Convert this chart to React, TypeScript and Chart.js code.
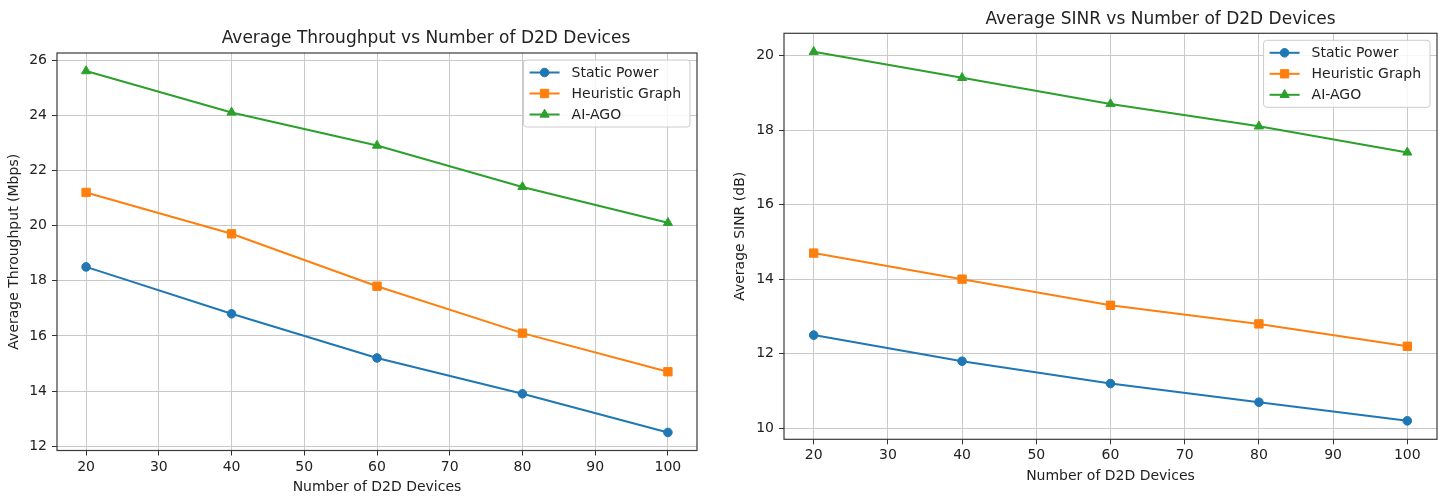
import React, { useEffect, useRef } from 'react';
import { Chart, registerables } from 'chart.js';

Chart.register(...registerables);

// ---------------- data ----------------
const deviceCounts = [20, 40, 60, 80, 100];
const seriesNames = ['Static Power', 'Heuristic Graph', 'AI-AGO'];

const throughputStatic = [18.5, 16.8, 15.2, 13.9, 12.5];
const throughputHeuristic = [21.2, 19.7, 17.8, 16.1, 14.7];
const throughputAIAGO = [25.6, 24.1, 22.9, 21.4, 20.1];

const sinrStatic = [12.5, 11.8, 11.2, 10.7, 10.2];
const sinrHeuristic = [14.7, 14.0, 13.3, 12.8, 12.2];
const sinrAIAGO = [20.1, 19.4, 18.7, 18.1, 17.4];

const xTicks = [20, 30, 40, 50, 60, 70, 80, 90, 100];
const throughputTicks = [12, 14, 16, 18, 20, 22, 24, 26];
const sinrTicks = [10, 12, 14, 16, 18, 20];

const xRange = [16, 104];
const throughputRange = [11.845, 26.255];
const sinrRange = [9.705, 20.595];

// ---------------- styles ----------------
const FONT = '"DejaVu Sans", sans-serif';
const TEXT = '#222222';
const colors = ['#1f77b4', '#ff7f0e', '#2ca02c'];
const pointStyles = ['circle', 'rect', 'triangle'];
const pointRadii = [4.3, 5.9, 5.3];
const W = 1445;
const H = 497;

function drawMarker(ctx: CanvasRenderingContext2D, style: string, x: number, y: number, r: number) {
  ctx.beginPath();
  if (style === 'circle') {
    ctx.arc(x, y, r, 0, Math.PI * 2);
  } else if (style === 'rect') {
    const s = Math.SQRT1_2 * r;
    ctx.rect(x - s, y - s, 2 * s, 2 * s);
  } else {
    let rad = 0;
    ctx.moveTo(x + Math.sin(rad) * r, y - Math.cos(rad) * r);
    rad += (2 * Math.PI) / 3;
    ctx.lineTo(x + Math.sin(rad) * r, y - Math.cos(rad) * r);
    rad += (2 * Math.PI) / 3;
    ctx.lineTo(x + Math.sin(rad) * r, y - Math.cos(rad) * r);
    ctx.closePath();
  }
  ctx.fill();
  ctx.stroke();
}

const mplPlugin = {
  id: 'mpl',
  afterDatasetsDraw(chart: any) {
    const { ctx, chartArea: a } = chart;
    ctx.save();
    ctx.strokeStyle = '#3a3a3a';
    ctx.lineWidth = 1.2;
    ctx.strokeRect(a.left, a.top, a.right - a.left, a.bottom - a.top);
    ctx.restore();
  },
  afterDraw(chart: any, _args: any, opts: any) {
    const { ctx, chartArea: a } = chart;
    ctx.save();
    // title
    ctx.font = `17px ${FONT}`;
    ctx.fillStyle = TEXT;
    ctx.textAlign = 'center';
    ctx.textBaseline = 'middle';
    ctx.fillText(opts.title, (a.left + a.right) / 2 + opts.titleShift, a.top - 14);

    // legend
    ctx.font = `14px ${FONT}`;
    const maxW = Math.max(...seriesNames.map((n) => ctx.measureText(n).width));
    const rowH = 21;
    const bw = 48 + maxW + 9;
    const bh = 12.5 * 2 + rowH * 2;
    const right = a.right - 7;
    const top = a.top + 7;
    const left = right - bw;
    ctx.beginPath();
    const rr = 3;
    ctx.moveTo(left + rr, top);
    ctx.lineTo(right - rr, top);
    ctx.arcTo(right, top, right, top + rr, rr);
    ctx.lineTo(right, top + bh - rr);
    ctx.arcTo(right, top + bh, right - rr, top + bh, rr);
    ctx.lineTo(left + rr, top + bh);
    ctx.arcTo(left, top + bh, left, top + bh - rr, rr);
    ctx.lineTo(left, top + rr);
    ctx.arcTo(left, top, left + rr, top, rr);
    ctx.closePath();
    ctx.fillStyle = 'rgba(255,255,255,0.85)';
    ctx.fill();
    ctx.strokeStyle = '#cccccc';
    ctx.lineWidth = 1;
    ctx.stroke();

    seriesNames.forEach((name, i) => {
      const y = top + 12.5 + i * rowH;
      ctx.strokeStyle = colors[i];
      ctx.lineWidth = 2;
      ctx.beginPath();
      ctx.moveTo(left + 6, y);
      ctx.lineTo(left + 36, y);
      ctx.stroke();
      ctx.fillStyle = colors[i];
      ctx.lineWidth = 1;
      drawMarker(ctx, pointStyles[i], left + 21, y, pointRadii[i]);
      ctx.fillStyle = TEXT;
      ctx.textAlign = 'left';
      ctx.textBaseline = 'middle';
      ctx.fillText(name, left + 48, y + 0.5);
    });
    ctx.restore();
  },
};

type ChartSpec = {
  title: string;
  yTitle: string;
  series: number[][];
  yTicks: number[];
  yRange: number[];
  padTop: number;
  padRight: number;
  yAxisWidth: number;
  xAxisHeight: number;
  yTitlePad: number;
  xTitlePad: number;
  titleShift: number;
};

function makeConfig(spec: ChartSpec): any {
  const gridColor = '#c9c9c9';
  return {
    type: 'line',
    data: {
      datasets: spec.series.map((vals, i) => ({
        label: seriesNames[i],
        data: deviceCounts.map((x, j) => ({ x, y: vals[j] })),
        borderColor: colors[i],
        backgroundColor: colors[i],
        borderWidth: 2,
        pointStyle: pointStyles[i],
        pointRadius: pointRadii[i],
        pointBorderWidth: 1,
        pointBackgroundColor: colors[i],
        pointBorderColor: colors[i],
        tension: 0,
        fill: false,
      })),
    },
    options: {
      responsive: false,
      animation: false,
      events: [],
      layout: { padding: { top: spec.padTop, right: spec.padRight, bottom: 0, left: 0 } },
      plugins: {
        legend: { display: false },
        title: { display: false },
        tooltip: { enabled: false },
        mpl: { title: spec.title, titleShift: spec.titleShift },
      },
      scales: {
        x: {
          type: 'linear',
          min: xRange[0],
          max: xRange[1],
          afterBuildTicks: (s: any) => {
            s.ticks = xTicks.map((v) => ({ value: v }));
          },
          afterFit: (s: any) => {
            s.height = spec.xAxisHeight;
          },
          grid: { color: gridColor, lineWidth: 1, tickLength: 5, tickColor: '#333', drawTicks: true },
          border: { display: false },
          ticks: { font: { family: FONT, size: 14 }, color: TEXT, padding: 3, maxRotation: 0, autoSkip: false },
          title: {
            display: true,
            text: 'Number of D2D Devices',
            font: { family: FONT, size: 14 },
            color: TEXT,
            padding: { top: 0, bottom: spec.xTitlePad },
          },
        },
        y: {
          type: 'linear',
          min: spec.yRange[0],
          max: spec.yRange[1],
          afterBuildTicks: (s: any) => {
            s.ticks = spec.yTicks.map((v) => ({ value: v }));
          },
          afterFit: (s: any) => {
            s.width = spec.yAxisWidth;
          },
          grid: { color: gridColor, lineWidth: 1, tickLength: 5, tickColor: '#333', drawTicks: true },
          border: { display: false },
          ticks: { font: { family: FONT, size: 14 }, color: TEXT, padding: 5, autoSkip: false },
          title: {
            display: true,
            text: spec.yTitle,
            font: { family: FONT, size: 14 },
            color: TEXT,
            padding: { top: spec.yTitlePad, bottom: 0 },
          },
        },
      },
    },
    plugins: [mplPlugin],
  };
}

function LineChart({ spec, left, width }: { spec: ChartSpec; left: number; width: number }) {
  const ref = useRef<HTMLCanvasElement>(null);
  useEffect(() => {
    const chart = new Chart(ref.current as HTMLCanvasElement, makeConfig(spec));
    return () => chart.destroy();
  }, []);
  return (
    <div style={{ position: 'absolute', left, top: 0, width, height: H }}>
      <canvas ref={ref} width={width} height={H} style={{ display: 'block', width, height: H }} />
    </div>
  );
}

const throughputSpec: ChartSpec = {
  title: 'Average Throughput vs Number of D2D Devices',
  yTitle: 'Average Throughput (Mbps)',
  series: [throughputStatic, throughputHeuristic, throughputAIAGO],
  yTicks: throughputTicks,
  yRange: throughputRange,
  padTop: 53,
  padRight: 23,
  yAxisWidth: 57,
  xAxisHeight: 46.5,
  yTitlePad: 6,
  xTitlePad: 1.6,
  titleShift: 49,
};

const sinrSpec: ChartSpec = {
  title: 'Average SINR vs Number of D2D Devices',
  yTitle: 'Average SINR (dB)',
  series: [sinrStatic, sinrHeuristic, sinrAIAGO],
  yTicks: sinrTicks,
  yRange: sinrRange,
  padTop: 33.3,
  padRight: 8,
  yAxisWidth: 64,
  xAxisHeight: 57.7,
  yTitlePad: 11.6,
  xTitlePad: 12.6,
  titleShift: 50,
};

export default function App() {
  return (
    <div style={{ position: 'absolute', left: 0, top: 0, width: W, height: H, background: '#ffffff', overflow: 'hidden' }}>
      <LineChart spec={throughputSpec} left={0} width={720} />
      <LineChart spec={sinrSpec} left={720} width={725} />
    </div>
  );
}
